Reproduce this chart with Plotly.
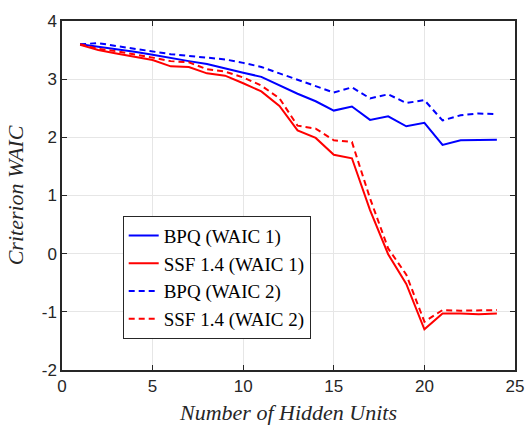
import plotly.graph_objects as go

hidden_units = list(range(1, 25))
bpq_waic1 = [3.60, 3.56, 3.51, 3.47, 3.42, 3.36, 3.31, 3.26, 3.18, 3.11, 3.04, 2.89, 2.75, 2.62,
             2.46, 2.53, 2.30, 2.36, 2.19, 2.25, 1.87, 1.95, 1.96, 1.96]
ssf_waic1 = [3.59, 3.50, 3.44, 3.38, 3.33, 3.22, 3.21, 3.10, 3.06, 2.93, 2.79, 2.54, 2.12, 1.99,
             1.70, 1.64, 0.75, -0.01, -0.52, -1.30, -1.03, -1.03, -1.04, -1.03]
bpq_waic2 = [3.60, 3.62, 3.57, 3.52, 3.47, 3.43, 3.40, 3.37, 3.34, 3.28, 3.21, 3.10, 2.99, 2.89,
             2.77, 2.86, 2.67, 2.74, 2.59, 2.64, 2.29, 2.38, 2.41, 2.40]
ssf_waic2 = [3.60, 3.52, 3.48, 3.43, 3.37, 3.31, 3.29, 3.17, 3.13, 3.03, 2.89, 2.67, 2.20, 2.15,
             1.95, 1.92, 0.95, 0.09, -0.36, -1.17, -0.97, -0.98, -0.98, -0.97]

x_ticks = [0, 5, 10, 15, 20, 25]
x_tick_labels = ["0", "5", "10", "15", "20", "25"]
y_ticks = [-2, -1, 0, 1, 2, 3, 4]
y_tick_labels = ["-2", "-1", "0", "1", "2", "3", "4"]

series = [
    ("BPQ (WAIC 1)", bpq_waic1, "#0000ff", "solid"),
    ("SSF 1.4 (WAIC 1)", ssf_waic1, "#ff0000", "solid"),
    ("BPQ (WAIC 2)", bpq_waic2, "#0000ff", "6px,4px"),
    ("SSF 1.4 (WAIC 2)", ssf_waic2, "#ff0000", "6px,4px"),
]

fig = go.Figure()
for name, vals, color, dash in series:
    fig.add_trace(go.Scatter(x=hidden_units, y=vals, mode="lines", name=name,
                             line=dict(color=color, width=2, dash=dash)))

axis_common = dict(
    showline=True, linecolor="#262626", linewidth=1.5, mirror="allticks",
    ticks="inside", ticklen=5, tickcolor="#262626",
    showgrid=True, gridcolor="#e6e6e6", gridwidth=1, zeroline=False,
    tickfont=dict(family="Arial", size=17, color="#262626"),
)

title_font = dict(family="Liberation Serif", size=22, color="#262626", style="italic")

fig.update_layout(
    width=529, height=425,
    margin=dict(l=62, r=12, t=17, b=55),
    paper_bgcolor="white", plot_bgcolor="white",
    xaxis=dict(range=[0, 25], tickvals=x_ticks, ticktext=x_tick_labels, automargin=False,
               **axis_common,
               title=dict(text="Number of Hidden Units", font=title_font)),
    yaxis=dict(range=[-2, 4], tickvals=y_ticks, ticktext=y_tick_labels, automargin=True,
               **axis_common,
               title=dict(text="Criterion WAIC", standoff=12, font=title_font)),
    legend=dict(x=0.134, y=0.442, xanchor="left", yanchor="top",
                bgcolor="white", bordercolor="#262626", borderwidth=1,
                font=dict(family="Liberation Serif", size=19, color="black"),
                tracegroupgap=0, itemwidth=30),
    showlegend=True,
)

fig.write_html("out.html")
